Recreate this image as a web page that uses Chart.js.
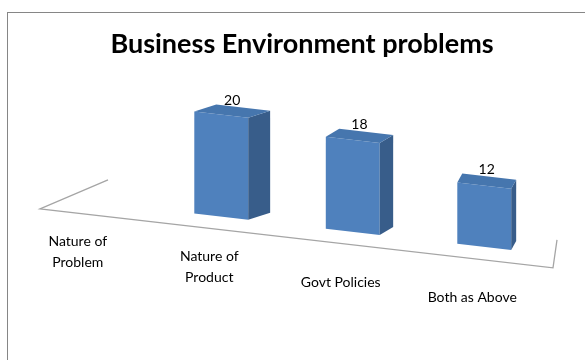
<!DOCTYPE html>
<html>
<head>
<meta charset="utf-8">
<script src="https://cdn.jsdelivr.net/npm/chart.js@4/dist/chart.umd.min.js"></script>
<style>
  html, body { margin: 0; padding: 0; background: #fff; }
  #wrap { width: 585px; height: 360px; }
</style>
</head>
<body>
<div id="wrap"><canvas id="chart"></canvas></div>
<script>
const categories = [["Nature of", "Problem"], ["Nature of", "Product"], ["Govt Policies"], ["Both as Above"]];
const counts = [0, 20, 18, 12];
const yMax = 25;

const SKEW = 0.115;          // slope of the perspective floor
const FONT = "Lato, 'Open Sans', sans-serif";

// bar depth (3d side/top) shrinks towards the right
const depthX = (x, a) => 0.0646 * (a.right + 11 - x);
const depthY = (x, a) => -(5.5 + 0.0076 * (x - a.left));

const perspective = {
  id: "perspective",
  beforeDraw(chart) {
    const ctx = chart.ctx;
    const a = chart.chartArea;
    const base = x => a.bottom + SKEW * (x - a.left);
    ctx.save();
    ctx.fillStyle = "#fff";
    ctx.fillRect(0, 0, chart.width, chart.height);
    ctx.strokeStyle = "#868686";
    ctx.lineWidth = 1;
    ctx.strokeRect(7.5, 12.5, chart.width + 20, chart.height + 20);

    // floor
    const lx = a.left + 16, rx = a.right + 3;
    ctx.strokeStyle = "#a5a5a5";
    ctx.lineWidth = 1.3;
    ctx.beginPath();
    ctx.moveTo(lx + 68, base(lx) + 13 - 29);
    ctx.lineTo(lx, base(lx) + 13);
    ctx.lineTo(rx, base(rx) + 13);
    ctx.lineTo(rx + 4, base(rx) + 13 - 28);
    ctx.stroke();
    ctx.restore();
  },
  beforeDatasetsDraw(chart) {
    const a = chart.chartArea;
    chart.ctx.save();
    chart.ctx.transform(1, SKEW, 0, 1, 0, -SKEW * a.left);
  },
  afterDatasetsDraw(chart) {
    const ctx = chart.ctx;
    const a = chart.chartArea;
    chart.getDatasetMeta(0).data.forEach((el, i) => {
      if (!counts[i]) return;
      const l = el.x - el.width / 2, r = el.x + el.width / 2;
      const dx = depthX(el.x, a);
      const dy = depthY(el.x, a) - SKEW * dx;
      ctx.fillStyle = "#385d8a";
      ctx.beginPath();
      ctx.moveTo(r, el.y);
      ctx.lineTo(r + dx, el.y + dy);
      ctx.lineTo(r + dx, el.base + dy);
      ctx.lineTo(r, el.base);
      ctx.closePath();
      ctx.fill();
      ctx.fillStyle = "#4676ae";
      ctx.beginPath();
      ctx.moveTo(l, el.y);
      ctx.lineTo(r, el.y);
      ctx.lineTo(r + dx, el.y + dy);
      ctx.lineTo(l + dx, el.y + dy);
      ctx.closePath();
      ctx.fill();
    });
    ctx.restore();
  },
  afterDraw(chart) {
    const ctx = chart.ctx;
    const a = chart.chartArea;
    const base = x => a.bottom + SKEW * (x - a.left);
    const xs = chart.scales.x;
    ctx.save();
    ctx.fillStyle = "#000";
    ctx.textAlign = "center";
    ctx.textBaseline = "middle";
    ctx.font = "14px " + FONT;

    // category labels along the floor edge
    categories.forEach((lab, i) => {
      const cx = xs.getPixelForValue(i) - 12;
      const cy = base(cx) + 52;
      const lh = 21;
      lab.forEach((line, j) => {
        ctx.fillText(line, cx, cy + (j - (lab.length - 1) / 2) * lh);
      });
    });

    // value labels over the bar tops
    chart.getDatasetMeta(0).data.forEach((el, i) => {
      if (!counts[i]) return;
      const dx = depthX(el.x, a), dy = depthY(el.x, a);
      const top = el.y + SKEW * (el.x - a.left);
      ctx.fillText(String(counts[i]), el.x + dx / 2, top + dy - 7);
    });
    ctx.restore();
  }
};

new Chart(document.getElementById("chart"), {
  type: "bar",
  data: {
    labels: categories,
    datasets: [{
      data: counts,
      backgroundColor: "#4f81bd",
      borderWidth: 0,
      barPercentage: 0.41,
      categoryPercentage: 1,
      clip: false
    }]
  },
  options: {
    responsive: true,
    maintainAspectRatio: false,
    animation: false,
    layout: { padding: { left: 24, right: 5, top: 9, bottom: 166 } },
    plugins: {
      legend: { display: false },
      tooltip: { enabled: false },
      title: {
        display: true,
        text: "Business Environment problems",
        color: "#000",
        font: { family: FONT, size: 27, weight: "bold" },
        padding: { top: 19, bottom: 6 }
      }
    },
    scales: {
      x: { display: false },
      y: {
        position: "right",
        min: 0,
        max: yMax,
        grid: { display: false },
        border: { display: false },
        ticks: { display: false },
        afterFit(scale) { scale.width = 30; }
      }
    }
  },
  plugins: [perspective]
});
</script>
</body>
</html>
